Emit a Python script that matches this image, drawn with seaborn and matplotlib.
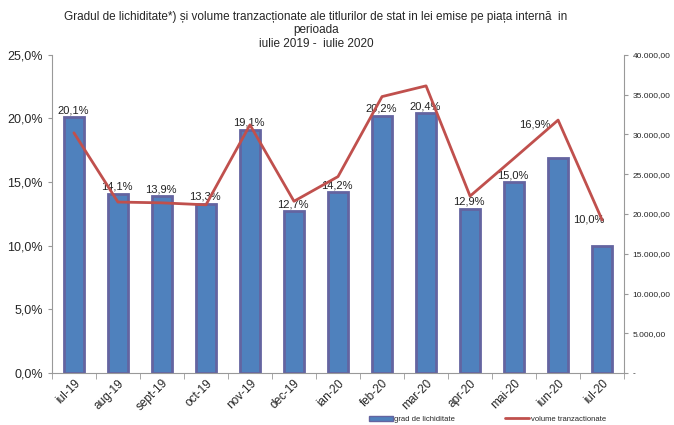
import seaborn as sns
import matplotlib.pyplot as plt
import matplotlib.ticker as mticker
from matplotlib.lines import Line2D
from matplotlib.patches import Patch
import pandas as pd
import numpy as np

# date
luni = ['iul-19', 'aug-19', 'sept-19', 'oct-19', 'nov-19', 'dec-19', 'ian-20',
        'feb-20', 'mar-20', 'apr-20', 'mai-20', 'iun-20', 'iul-20']
grad_lichiditate = [20.1, 14.1, 13.9, 13.3, 19.1, 12.7, 14.2, 20.2, 20.4, 12.9, 15.0, 16.9, 10.0]
volume = [30200, 21500, 21400, 21150, 31200, 21600, 24700, 34750, 36100, 22250, 27000, 31800, 19250]

df = pd.DataFrame({'luna': luni, 'grad': grad_lichiditate, 'volum': volume})
df['poz'] = np.arange(len(df))

sns.set_style("white")
plt.rcParams['font.family'] = ['Liberation Sans', 'DejaVu Sans']

fig = plt.figure(figsize=(6.74, 4.25), dpi=100)
ax1 = fig.add_axes([0.077, 0.122, 0.849, 0.749])

sns.barplot(data=df, x='luna', y='grad', ax=ax1, color='#4F81BD', saturation=1,
            width=0.44, edgecolor='#6464A0', linewidth=2)
ax1.set_ylim(0, 25)
ax1.set_xlim(-0.5, len(df) - 0.5)
ax1.yaxis.set_major_locator(mticker.MultipleLocator(5))
ax1.yaxis.set_major_formatter(mticker.FuncFormatter(lambda v, p: f'{v:.1f}%'.replace('.', ',')))
ax1.set_xlabel('')
ax1.set_ylabel('')
ax1.tick_params(axis='y', labelsize=9, length=3, color='#999999', direction='out', left=True)
ax1.tick_params(axis='x', labelsize=8.5, length=0, pad=3)
for lbl in ax1.get_xticklabels():
    lbl.set_rotation(45)
    lbl.set_ha('right')
    lbl.set_rotation_mode('anchor')
ax1.set_xticks(np.arange(len(df) + 1) - 0.5, minor=True)
ax1.tick_params(axis='x', which='minor', length=4, color='#999999', bottom=True)
for s in ['left', 'bottom']:
    ax1.spines[s].set_color('#999999')
ax1.spines['top'].set_visible(False)
ax1.spines['right'].set_visible(False)

# etichete procente (cele de la iun-20 si iul-20 sunt mutate in original)
mutare = {11: (-22, 26), 12: (-12, 19)}
for i, v in enumerate(grad_lichiditate):
    dx, dy = mutare.get(i, (0, 0))
    ax1.annotate(f'{v:.1f}%'.replace('.', ','), xy=(i, v), textcoords='offset pixels',
                 xytext=(-1 + dx, 2 + dy), ha='center', va='bottom',
                 fontsize=8, color='#222222')

ax2 = ax1.twinx()
sns.lineplot(data=df, x='poz', y='volum', ax=ax2, color='#C0504D', linewidth=2)
ax2.set_ylim(0, 40000)
ax2.set_xlim(-0.5, len(df) - 0.5)
ax2.yaxis.set_major_locator(mticker.MultipleLocator(5000))
ax2.yaxis.set_major_formatter(mticker.FuncFormatter(
    lambda v, p: '-' if v == 0 else f'{v:,.2f}'.replace(',', 'X').replace('.', ',').replace('X', '.')))
ax2.set_ylabel('')
ax2.set_xlabel('')
ax2.tick_params(axis='y', labelsize=6.0, length=3, color='#999999', right=True, pad=3)
for s in ['left', 'bottom', 'top']:
    ax2.spines[s].set_visible(False)
ax2.spines['right'].set_color('#999999')

fig.text(0.469, 0.975, 'Gradul de lichiditate*) și volume tranzacționate ale titlurilor de stat in lei emise pe piața internă  in\nperioada\niulie 2019 -  iulie 2020',
         ha='center', va='top', fontsize=8.5, linespacing=1.2)

handles = [Patch(facecolor='#4F81BD', edgecolor='#6464A0'),
           Line2D([0], [0], color='#C0504D', linewidth=2)]
fig.legend(handles, ['grad de lichiditate', 'volume tranzactionate'], loc='center',
           bbox_to_anchor=(0.723, 0.013), ncol=2, frameon=False, fontsize=5.5,
           handlelength=3.2, handleheight=0.6, columnspacing=6.5, handletextpad=0.15,
           borderpad=0)

fig.savefig('out.png', dpi=100)
